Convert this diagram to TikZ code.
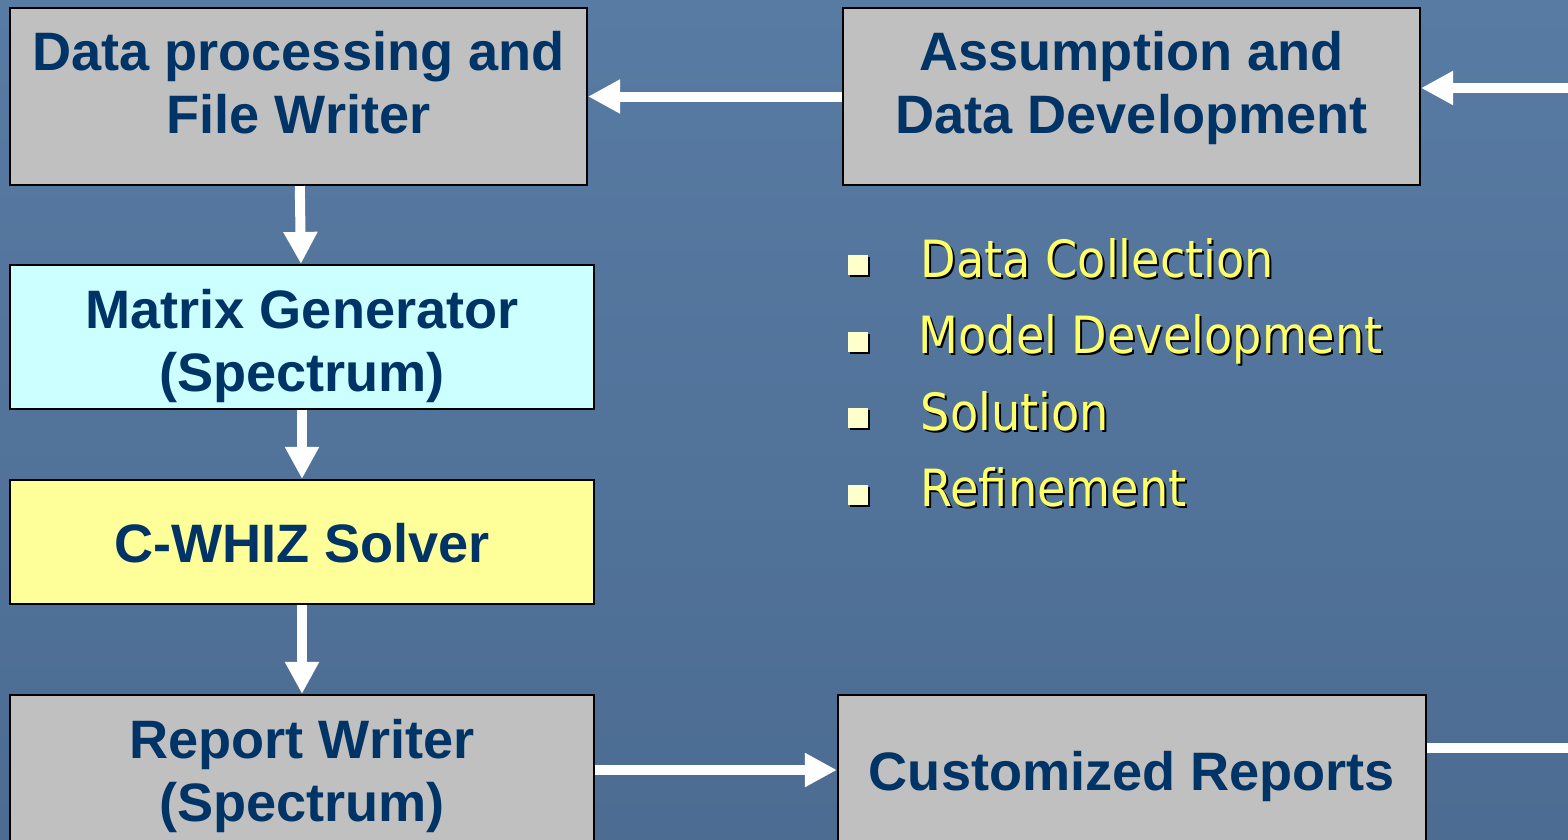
\documentclass[tikz,border=0pt]{standalone}
\usepackage{fontspec}
\setmainfont{Liberation Sans}
\newfontfamily\itemfont{DejaVu Sans Condensed}
\usetikzlibrary{arrows.meta,shadows}
\definecolor{slidetop}{RGB}{88,123,163}
\definecolor{slidebottom}{RGB}{76,108,146}
\definecolor{boxtext}{RGB}{0,51,102}
\definecolor{boxgray}{RGB}{192,192,192}
\definecolor{boxcyan}{RGB}{204,255,255}
\definecolor{boxyellow}{RGB}{255,255,153}
\definecolor{itemyellow}{RGB}{255,255,102}
\definecolor{bulletfill}{RGB}{255,255,204}
\newcommand\boxlines[2]{\raisebox{#1}[\height][\depth]{\begin{tabular}{@{}c@{}}#2\end{tabular}}}

\begin{document}
\begin{tikzpicture}[
  box/.style={draw=black,line width=0.6pt,inner sep=0pt,text=boxtext,
    font=\bfseries\fontsize{15.4}{18}\selectfont},
  item/.style={anchor=base west,inner sep=0pt,text=itemyellow,font=\itemfont\fontsize{14.6}{17}\selectfont},
  itemshadow/.style={item,text=black},
  bullet/.style={fill=bulletfill,minimum size=0.20cm,inner sep=0pt,
    drop shadow={shadow xshift=0.02cm,shadow yshift=-0.02cm,fill=black,opacity=1}},
  flow/.style={white,line width=0.1cm,-{Triangle[length=0.32cm,width=0.32cm]}}
]
\clip (0,0) rectangle (15.68,8.39);
\shade[top color=slidetop,bottom color=slidebottom] (0,0) rectangle (15.68,8.39);

\node[box,fill=boxgray,minimum width=5.77cm,minimum height=1.77cm] (a) at (2.985,7.425) {\boxlines{0.07cm}{Data processing and\\File Writer}};
\node[box,fill=boxgray,minimum width=5.77cm,minimum height=1.77cm] (b) at (11.315,7.425) {\boxlines{0.07cm}{Assumption and\\Data Development}};
\node[box,fill=boxcyan,minimum width=5.84cm,minimum height=1.44cm] (c) at (3.02,5.02) {\boxlines{-0.10cm}{Matrix Generator\\(Spectrum)}};
\node[box,fill=boxyellow,minimum width=5.84cm,minimum height=1.24cm] (d) at (3.02,2.97) {\boxlines{-0.08cm}{C-WHIZ Solver}};
\node[box,fill=boxgray,minimum width=5.84cm,minimum height=1.50cm] (e) at (3.02,0.69) {\boxlines{-0.07cm}{Report Writer\\(Spectrum)}};
\node[box,fill=boxgray,minimum width=5.88cm,minimum height=1.50cm] (f) at (11.32,0.69) {\boxlines{-0.08cm}{Customized Reports}};
\coordinate (r) at (16.2,0.69);

% bullet list
\node[bullet] at (8.58,5.74) {};
\node[itemshadow] at (9.22,5.60) {Data Collection};
\node[item] (g) at (9.20,5.62) {Data Collection};
\node[bullet] at (8.58,4.975) {};
\node[itemshadow] at (9.20,4.835) {Model Development};
\node[item] (h) at (9.18,4.855) {Model Development};
\node[bullet] at (8.58,4.21) {};
\node[itemshadow] at (9.22,4.07) {Solution};
\node[item] (i) at (9.20,4.09) {Solution};
\node[bullet] at (8.58,3.445) {};
\node[itemshadow] at (9.22,3.305) {Refinement};
\node[item] (j) at (9.20,3.325) {Refinement};

\path[flow]
(b) edge (a)
(a) edge (c)
(c) edge (d)
(d) edge (e)
(e) edge (f)
;
\draw[flow] ([yshift=0.22cm]f.east) -| (r) |- ([yshift=0.085cm]b.east);
\end{tikzpicture}
\end{document}
